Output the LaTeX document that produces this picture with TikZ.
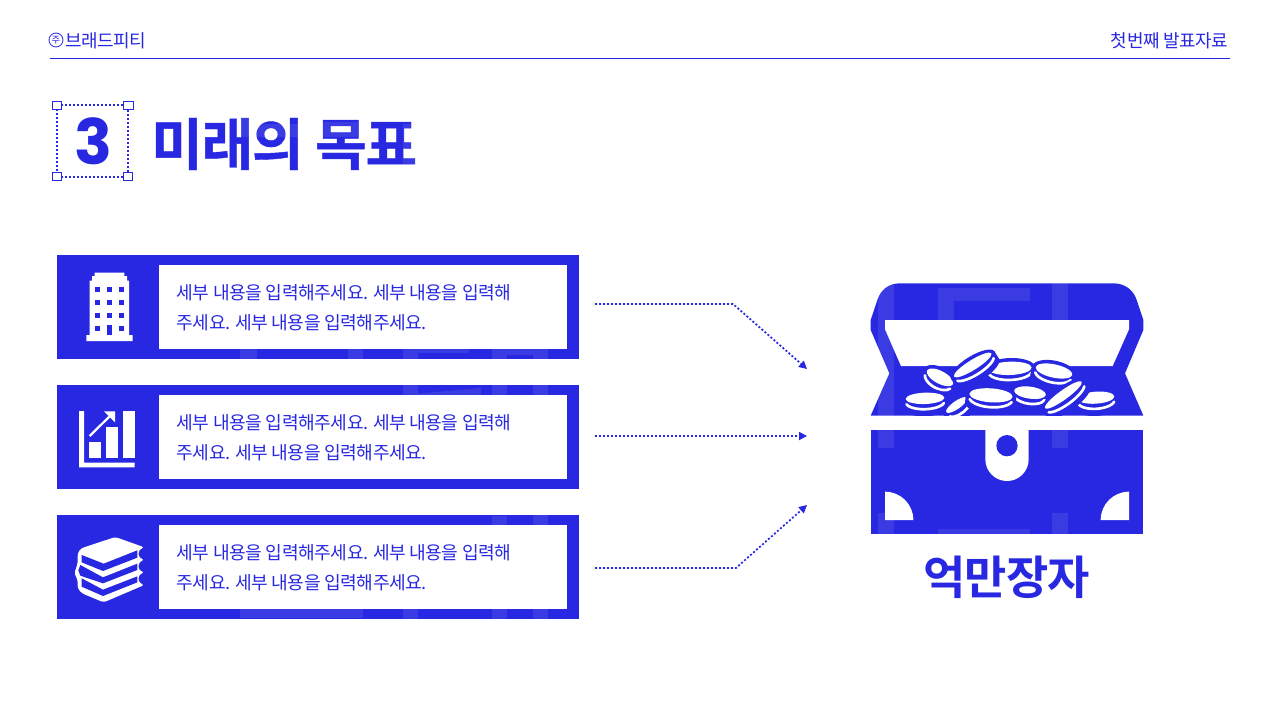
\documentclass[tikz,border=0pt]{standalone}
\usepackage{fontspec}
\usetikzlibrary{arrows.meta}
\setmainfont{Noto Sans CJK KR}
\newfontfamily\krbody[LetterSpace=-2.6]{Noto Sans CJK KR}
\newfontfamily\krhead[LetterSpace=-2.4]{Noto Sans CJK KR}
\newfontfamily\krbold[LetterSpace=-2,FakeBold=0.8]{Noto Sans CJK KR Bold}
\newfontfamily\krtitle[LetterSpace=-2]{Noto Sans CJK KR Bold}
\newfontfamily\numfont{Poppins}
\definecolor{brand}{HTML}{2828E2}
\tikzset{
  bodytext/.style={anchor=west,inner sep=0pt,align=left,text=brand,font=\krbody\fontsize{13.6}{22.4}\selectfont},
  headtext/.style={inner sep=0pt,text=brand,font=\krhead\fontsize{13.5}{16}\selectfont},
  flow/.style={draw=brand,line width=1.3pt,dash pattern=on 1.5pt off 1.5pt,-{Triangle[length=6pt,width=6pt]}},
  handle/.style={draw=brand,fill=white,line width=0.75pt},
  glow/.style={fill=white,fill opacity=0.09},
  zoomed/.style={x=0.25pt,y=-0.25pt}
}
\newcommand{\coin}[5]{% cx cy rx ry rot (zoomed units)
  \begin{scope}[shift={(#1,#2)},rotate=#5]
    \fill[brand] (0,0) ellipse[x radius=#3+11,y radius=#4+11];
    \fill[brand] (-#3-11,0) rectangle (#3+11,26);
    \fill[brand] (0,26) ellipse[x radius=#3+11,y radius=#4+11];
    \fill[white] (0,0) ellipse[x radius=#3,y radius=#4];
    \draw[white,line width=2pt,line cap=round] (#3*0.97,16) arc[start angle=14,end angle=166,x radius=#3,y radius=#4+5];
  \end{scope}}
\begin{document}
\begin{tikzpicture}[x=0.75pt,y=-0.75pt]
\useasboundingbox (0,0) rectangle (1280,720);
\fill[white] (0,0) rectangle (1280,720);
% header
\node[draw=brand,circle,line width=0.6pt,minimum size=10.5pt,inner sep=0pt,text=brand,font=\krhead\fontsize{7}{8}\selectfont] (seal) at (56,40) {주};
\node[headtext,anchor=west] (brandname) at (65,41) {브래드피티};
\node[headtext,anchor=east] (deck) at (1228.5,41) {첫번째 발표자료};
\coordinate (ruleL) at (50,58.5);
\coordinate (ruleR) at (1230,58.5);
\draw[brand,line width=0.75pt] (ruleL) -- (ruleR);
% title
\draw[brand,line width=1.3pt,dash pattern=on 1.5pt off 1.5pt] (57,105) rectangle (128,177);
\draw[handle] (52.5,102) rectangle (61,110);
\draw[handle] (123.5,101.5) rectangle (133.5,110);
\draw[handle] (52.5,172.5) rectangle (61,181);
\draw[handle] (123.5,172.5) rectangle (132.5,181);
\node[inner sep=0pt,text=brand,font=\numfont\bfseries\fontsize{47}{50}\selectfont] (num) at (93.5,141) {3};
\node[inner sep=0pt,anchor=west,text=brand,font=\krbold\fontsize{42}{46}\selectfont] (title) at (151,144) {미래의 목표};
% rows
\foreach \dy/\nm in {0/a,130/b,260/c}{
  \begin{scope}[yshift=-0.75pt*\dy]
    \fill[brand] (57,255) rectangle (579,359);
    \fill[white] (159,265) rectangle (567,349);
    \node[bodytext] (text\nm) at (176.5,307.5) {세부 내용을 입력해주세요. 세부 내용을 입력해\\주세요. 세부 내용을 입력해주세요.};
  \end{scope}}
% building icon
\begin{scope}[shift={(57,255)},zoomed]
  \fill[white] (113,53)--(202,53)--(202,63)--(210,63)--(210,77)--(216,77)--(216,240)--(227,240)--(227,258)--(88,258)--(88,240)--(98,240)--(98,77)--(105,77)--(105,63)--(113,63)--cycle;
  \foreach \cx in {122,157,192}{\foreach \cy in {102,141,180}{\fill[brand] (\cx-7.5,\cy-7.5) rectangle (\cx+7.5,\cy+7.5);}}
  \fill[brand] (114.5,211.5) rectangle (129.5,226.5);
  \fill[brand] (184.5,211.5) rectangle (199.5,226.5);
  \fill[brand] (150,211) rectangle (165,241);
\end{scope}
% chart icon
\begin{scope}[shift={(57,385)},zoomed]
  \fill[white] (66,78)--(81,78)--(81,233)--(233,233)--(233,247)--(66,247)--cycle;
  \fill[white] (95,171) rectangle (132,219);
  \fill[white] (146,127) rectangle (183,219);
  \fill[white] (197,79) rectangle (233,219);
  \draw[white,line width=1.7pt] (98,153)--(162,90);
  \fill[white] (141,79)--(174,79)--(174,112)--cycle;
\end{scope}
% books icon
\begin{scope}[shift={(57,515)},zoomed]
  \fill[white,rounded corners=2pt] (175,66)--(262,97)--(245,105)--(245,127)--(262,134)--(245,143)--(245,165)--(262,172)--(245,180)--(245,202)--(262,210)--(140,262)--(75,235)--(62,220)--(62,195)--(52,175)--(62,145)--(62,115)--(72,100)--cycle;
  \fill[brand] (74,120)--(140,146)--(241,106)--(241,128)--(138,168)--(74,142)--cycle;
  \fill[brand] (70,150)--(138,187)--(241,146)--(241,165)--(138,205)--(70,182)--(64,166)--cycle;
  \fill[brand] (74,190)--(138,224)--(241,184)--(241,202)--(138,243)--(74,215)--cycle;
\end{scope}
% connectors
\coordinate (s1) at (595,304); \coordinate (m1) at (733,304); \coordinate (e1) at (807,369);
\coordinate (s2) at (595,436); \coordinate (e2) at (807,436);
\coordinate (s3) at (595,568); \coordinate (m3) at (736,568); \coordinate (e3) at (807,505);
\draw[flow] (s1) -- (m1) -- (e1);
\draw[flow] (s2) -- (e2);
\draw[flow] (s3) -- (m3) -- (e3);
% chest (zoomed coordinates relative to 850,270)
\begin{scope}[shift={(850,270)},zoomed]
  \fill[brand] (150,40)--(790,40) .. controls (825,40) and (850,60) .. (860,90)--(880,150)--(880,180)--(825,310)--(880,437)--(62,437)--(118,310)--(62,180)--(62,150)--(82,90) .. controls (92,60) and (115,40) .. (150,40)--cycle;
  \fill[white] (105,150)--(837,150)--(837,178)--(788,288)--(153,288)--(105,178)--cycle;
  \begin{scope}
    \clip (0,0) rectangle (930,437);
    \coin{270}{322}{44}{19}{-28}
    \coin{225}{385}{58}{17}{2}
    \coin{320}{405}{38}{12}{35}
    \coin{738}{383}{55}{18}{4}
    \coin{540}{368}{48}{18}{-8}
    \coin{480}{295}{65}{20}{2}
    \coin{612}{303}{56}{20}{-12}
    \coin{368}{285}{66}{15}{32}
    \coin{423}{376}{65}{21}{-4}
    \coin{640}{375}{68}{14}{36}
  \end{scope}
  \fill[brand] (62,480) rectangle (880,793);
  \fill[white] (406,480)--(536,480)--(536,568) arc[start angle=0,end angle=180,radius=65]--cycle;
  \fill[brand] (471,527) circle[radius=32];
  \fill[white] (105,750)--(105,665) arc[start angle=-90,end angle=0,radius=85]--cycle;
  \fill[white] (837,750)--(837,665) arc[start angle=270,end angle=180,radius=85]--cycle;
\end{scope}
\node[inner sep=0pt,text=brand,font=\krtitle\fontsize{34.5}{38}\selectfont] (goal) at (1006.5,577) {억만장자};
% faint watermark patches
\foreach \xa/\ya/\xb/\yb in {
  878/283/894/416, 878/430/894/448, 878/513/894/534.5,
  938/288/1030/301, 938/301/954/320, 1052/283/1068/320,
  1052/430/1068/448, 1052/513/1068/534.5, 938/529/1030/534.5,
  240/349/257/359, 348/349/363/359, 403/349/418/359, 418/349/469/353,
  492/349/507/359, 507/349/533/355, 533/349/548/359,
  403/385/418/395, 492/385/507/395, 533/385/548/395,
  492/516/507/525, 533/515/548/525,
  240/609/363/618, 403/609/418/619, 492/609/507/619, 533/609/548/619,
  240/117/257/124, 240/124/300/137, 322/122/358/137, 403/124/418/165}{
  \fill[glow] (\xa,\ya) rectangle (\xb,\yb);
}
\fill[glow] (418,393.5)--(481,388)--(481,395)--(418,395)--cycle;
\end{tikzpicture}
\end{document}
